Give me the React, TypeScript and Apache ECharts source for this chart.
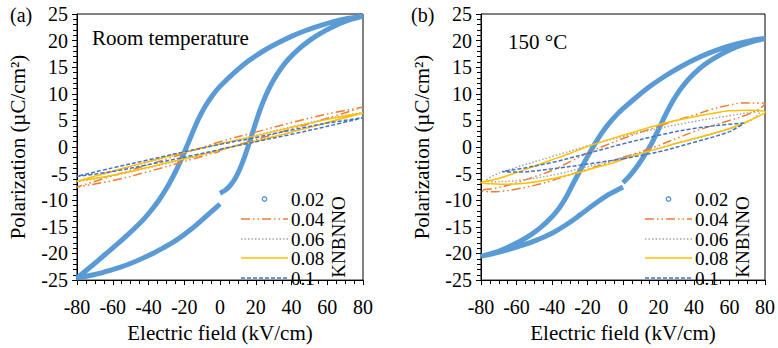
import React, { useEffect, useRef } from "react";
import * as echarts from "echarts";

// ---- Data ----
const seriesNames = ["0.02", "0.04", "0.06", "0.08", "0.1"];
const seriesColors = ["#5B9BD5", "#ED7D31", "#A5A5A5", "#FFC000", "#4472C4"];
const panelTags = ["(a)", "(b)"];
const panelNotes = ["Room temperature", "150 °C"];
const compositionLabel = "KNBNNO";

// Room temperature loops [E (kV/cm), P (µC/cm²)]
const rt002 = [
  [0, -8.7], [3, -8.1], [6, -7.1], [9, -5.6], [12, -3.4], [14, -1.6], [16, 0.4], [18, 2.5], [20, 4.6], [22, 6.6],
  [24, 8.4], [27, 10.7], [30, 12.6], [34, 14.7], [38, 16.4], [44, 18.4], [50, 20], [56, 21.3], [62, 22.4], [70, 23.6], [80, 24.6],
  [72, 24.2], [64, 23.6], [56, 22.8], [48, 21.9], [40, 20.8], [32, 19.5], [24, 18], [16, 16.2], [8, 14], [0, 11.4],
  [-4, 9.8], [-8, 7.8], [-12, 5.3], [-15, 3], [-18, 0.6], [-21, -1.8], [-24, -4], [-27, -6], [-30, -7.8], [-34, -9.9],
  [-38, -11.7], [-42, -13.3], [-46, -14.7], [-52, -16.6], [-58, -18.4], [-64, -20.1], [-72, -22.4], [-80, -24.6],
  [-72, -24.1], [-64, -23.4], [-56, -22.6], [-48, -21.6], [-40, -20.4], [-32, -19], [-24, -17.4], [-16, -15.4],
  [-10, -13.7], [-5, -12.2], [0, -10.7],
];
const rt004 = [
  [0, -0.6], [20, 1.4], [40, 3.4], [60, 5.4], [80, 7.5], [60, 6.2], [40, 4.6], [20, 2.8], [0, 1],
  [-20, -1.2], [-40, -3.3], [-60, -5.4], [-80, -7.5], [-60, -6.3], [-40, -4.6], [-20, -2.7], [0, -0.8],
];
const rt006 = [
  [0, -0.5], [20, 1.1], [40, 2.8], [60, 4.6], [80, 6.5], [60, 5.3], [40, 3.8], [20, 2.2], [0, 0.6],
  [-20, -1], [-40, -2.8], [-60, -4.6], [-80, -6.5], [-60, -5.4], [-40, -3.9], [-20, -2.3], [0, -0.6],
];
const rt008 = [
  [0, -0.5], [20, 1.1], [40, 2.8], [60, 4.6], [80, 6.4], [60, 5.2], [40, 3.7], [20, 2.1], [0, 0.6],
  [-20, -1], [-40, -2.7], [-60, -4.5], [-80, -6.4], [-60, -5.3], [-40, -3.8], [-20, -2.2], [0, -0.6],
];
const rt010 = [
  [0, -0.4], [20, 1], [40, 2.4], [60, 3.9], [80, 5.5], [60, 4.5], [40, 3.2], [20, 1.8], [0, 0.5],
  [-20, -0.9], [-40, -2.4], [-60, -3.9], [-80, -5.5], [-60, -4.6], [-40, -3.3], [-20, -1.9], [0, -0.5],
];

// 150 °C loops
const ht002 = [
  [0, -6.7], [4, -5.3], [8, -3.6], [12, -1.6], [16, 0.6], [20, 3.3], [24, 6.1], [28, 8.6], [32, 10.7], [36, 12.4],
  [40, 13.8], [46, 15.5], [52, 16.8], [58, 17.9], [64, 18.8], [72, 19.7], [80, 20.4],
  [72, 20], [64, 19.4], [56, 18.6], [48, 17.6], [40, 16.4], [32, 15], [24, 13.4], [16, 11.6], [8, 9.5], [0, 7.2],
  [-4, 5.9], [-8, 4.4], [-12, 2.6], [-16, 0.5], [-20, -1.8], [-24, -4.3], [-28, -6.8], [-32, -9.4], [-36, -11.5],
  [-40, -13.1], [-46, -15], [-52, -16.5], [-58, -17.7], [-64, -18.7], [-72, -19.8], [-80, -20.5],
  [-72, -19.9], [-64, -19.2], [-56, -18.4], [-48, -17.4], [-40, -16.2], [-32, -14.6], [-24, -12.7], [-16, -10.7],
  [-8, -8.9], [-4, -8.2], [0, -7.5],
];
const ht004 = [
  [0, -1.9], [10, -0.9], [20, 0.3], [30, 1.6], [40, 2.9], [50, 4], [60, 5], [70, 6.1], [77, 7.2], [80, 8.2],
  [75, 8.3], [68, 8.3], [60, 7.9], [50, 7.1], [40, 6], [30, 5], [20, 3.9], [10, 2.8], [0, 1.6], [-10, 0.3],
  [-20, -1.1], [-30, -2.8], [-40, -4.4], [-50, -5.6], [-60, -6.7], [-70, -7.6], [-80, -8.2],
  [-75, -8.4], [-68, -8.3], [-60, -7.9], [-50, -7.2], [-40, -6.3], [-30, -5.2], [-20, -4.2], [-10, -3.1], [0, -1.9],
];
const ht006 = [
  [0, -2], [20, -0.2], [40, 1.5], [60, 3.4], [72, 5], [78, 6.8],
  [70, 6.4], [60, 5.9], [40, 4.8], [20, 3.5], [0, 2], [-20, 0.2], [-40, -1.8], [-60, -3.8], [-72, -5.2], [-78, -6.4],
  [-72, -6.5], [-60, -6.3], [-40, -5.3], [-20, -3.7], [0, -2],
];
const ht008 = [
  [0, -2.3], [10, -1.2], [20, -0.3], [30, 0.7], [40, 1.6], [50, 2.5], [60, 3.5], [70, 4.8], [80, 6.6],
  [72, 6.9], [60, 6.8], [50, 6.3], [40, 5.7], [30, 5], [20, 4.2], [10, 3.2], [0, 2.2], [-10, 1.2], [-20, 0.1],
  [-30, -1.2], [-40, -2.4], [-50, -3.6], [-60, -4.8], [-70, -5.9], [-80, -6.7],
  [-74, -6.9], [-65, -7], [-55, -6.8], [-45, -6.3], [-35, -5.6], [-25, -4.8], [-15, -3.8], [-5, -2.9], [0, -2.3],
];
const ht010 = [
  [0, -2.2], [20, -0.9], [40, 0.9], [60, 2.9], [68, 4.5],
  [60, 4.3], [40, 3.5], [20, 2.2], [0, 0.6], [-20, -1.2], [-40, -2.9], [-60, -4.2], [-68, -4.6],
  [-60, -4.7], [-40, -4.1], [-20, -3.2], [0, -2.2],
];

const panels = [
  [rt002, rt004, rt006, rt008, rt010],
  [ht002, ht004, ht006, ht008, ht010],
];

// ---- Styling ----
const FONT = "'Liberation Serif', 'Times New Roman', serif";
const dashes: any[] = ["solid", [9, 3, 1.5, 3, 1.5, 3], [1.5, 2], "solid", [4, 2]];
const grids = [
  { left: 77, top: 14, width: 286, height: 275 },
  { left: 481, top: 14, width: 284, height: 275 },
];
const legendRowY = [199, 219, 239, 258, 278];

export default function App() {
  const ref = useRef<HTMLDivElement>(null);
  useEffect(() => {
    if (!ref.current) return;
    const chart = echarts.init(ref.current, null, { renderer: "svg" });

    const xAxes = grids.map((_, i) => ({
      type: "value",
      gridIndex: i,
      min: -80,
      max: 80,
      interval: 20,
      name: "Electric field (kV/cm)",
      nameLocation: "middle",
      nameGap: 33,
      nameTextStyle: { fontFamily: FONT, fontSize: 21, color: "#000" },
      axisLine: { onZero: false, lineStyle: { color: "#000", width: 1 } },
      axisTick: { show: true, inside: false, length: 5, lineStyle: { color: "#000" } },
      minorTick: { show: true, splitNumber: 4, length: 4, lineStyle: { color: "#000" } },
      axisLabel: { fontFamily: FONT, fontSize: 20, color: "#000", margin: 17 },
      splitLine: { show: false },
    }));
    const yAxes = grids.map((_, i) => ({
      type: "value",
      gridIndex: i,
      min: -25,
      max: 25,
      interval: 5,
      name: "Polarization (µC/cm²)",
      nameLocation: "middle",
      nameGap: 49,
      nameTextStyle: { fontFamily: FONT, fontSize: 21, color: "#000" },
      axisLine: { onZero: false, lineStyle: { color: "#000", width: 1 } },
      axisTick: { show: true, inside: false, length: 5, lineStyle: { color: "#000" } },
      minorTick: { show: true, splitNumber: 5, length: 4, lineStyle: { color: "#000" } },
      axisLabel: { fontFamily: FONT, fontSize: 20, color: "#000", margin: 9 },
      splitLine: { show: false },
    }));

    const series: any[] = [];
    panels.forEach((loops, p) => {
      loops.forEach((data, k) => {
        series.push({
          type: "line",
          name: seriesNames[k],
          xAxisIndex: p,
          yAxisIndex: p,
          data,
          symbol: "none",
          showSymbol: false,
          smooth: 0.35,
          clip: k !== 0,
          z: 2 + k,
          lineStyle: {
            color: seriesColors[k],
            width: k === 0 ? 5 : 1.5,
            type: dashes[k],
          },
        });
      });
    });

    const graphics: any[] = [];
    grids.forEach((g, p) => {
      graphics.push({
        type: "text",
        x: p === 0 ? 10 : 411,
        y: 15,
        style: { text: panelTags[p], font: `20px ${FONT}`, fill: "#000", align: "left", verticalAlign: "middle" },
      });
      graphics.push({
        type: "text",
        x: p === 0 ? 92 : 508,
        y: p === 0 ? 38 : 42,
        style: { text: panelNotes[p], font: `21px ${FONT}`, fill: "#000", align: "left", verticalAlign: "middle" },
      });
      const lx1 = g.left + 164;
      const lx2 = g.left + 211;
      const tx = g.left + 214;
      seriesNames.forEach((nm, k) => {
        const y = legendRowY[k];
        if (k === 0) {
          graphics.push({
            type: "circle",
            shape: { cx: (lx1 + lx2) / 2, cy: y, r: 2.2 },
            style: { fill: "#fff", stroke: seriesColors[0], lineWidth: 1.4 },
          });
        } else {
          graphics.push({
            type: "line",
            z: 10,
            shape: { x1: lx1, y1: y, x2: lx2, y2: y },
            style: {
              stroke: seriesColors[k],
              lineWidth: 1.6,
              lineDash: Array.isArray(dashes[k]) ? dashes[k].slice() : null,
            },
          });
        }
        graphics.push({
          type: "text",
          x: tx,
          y: y,
          style: { text: nm, font: `19px ${FONT}`, fill: "#000", align: "left", verticalAlign: "middle" },
        });
      });
      graphics.push({
        type: "text",
        x: g.left + 261,
        y: 237,
        rotation: Math.PI / 2,
        style: { text: compositionLabel, font: `19px ${FONT}`, fill: "#000", align: "center", verticalAlign: "middle" },
      });
    });

    chart.setOption({
      animation: false,
      backgroundColor: "#fff",
      grid: grids.map((g) => ({ ...g, show: true, borderColor: "#000", borderWidth: 1, backgroundColor: "transparent" })),
      xAxis: xAxes,
      yAxis: yAxes,
      series,
      graphic: graphics,
    });
    return () => chart.dispose();
  }, []);
  return (
    <div
      ref={ref}
      style={{ position: "fixed", left: 0, top: 0, width: 778, height: 348, background: "#fff" }}
    />
  );
}
